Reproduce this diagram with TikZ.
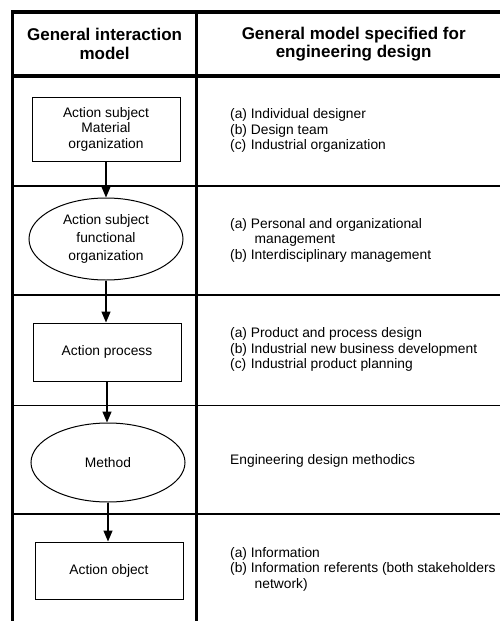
\documentclass[tikz,border=0pt]{standalone}
\usepackage{fontspec}
\setmainfont{Liberation Sans}
\usetikzlibrary{shapes.geometric,arrows.meta}
\begin{document}
\begin{tikzpicture}[x=1pt,y=-1pt,
  framebold/.style={line width=3.2pt, line join=miter},
  thinsep/.style={line width=1.4pt},
  boxnode/.style={draw, line width=1pt, minimum width=148pt, inner sep=0pt, align=center, font=\fontsize{13.8}{15.5}\selectfont},
  ellnode/.style={draw, ellipse, line width=1pt, minimum width=154pt, inner sep=0pt, align=center, font=\fontsize{13.8}{17.7}\selectfont},
  hdr/.style={align=center, inner sep=0pt, font=\bfseries\fontsize{17}{18.3}\selectfont},
  desc/.style={anchor=west, inner sep=0pt, font=\fontsize{13.8}{15.5}\selectfont},
  arr/.style={line width=1.3pt, -{Triangle[length=11pt,width=9pt]}}
]
\useasboundingbox (0,0) rectangle (500,621);
% frame
\draw[framebold] (12.5,621) -- (12.5,12) -- (500,12);
\draw[framebold] (12.5,76) -- (500,76);
\draw[framebold] (196.5,12) -- (196.5,621);
\draw[thinsep] (12.5,186) -- (500,186);
\draw[thinsep] (12.5,295) -- (500,295);
\draw[thinsep] (12.5,405.5) -- (500,405.5);
\draw[thinsep] (12.5,514) -- (500,514);
% headers
\node[hdr] (h1) at (104.6,44) {General interaction\\model};
\node[hdr] (h2) at (353.7,44) {General model specified for\\engineering design};
% left column
\node[boxnode, minimum height=64pt] (b1) at (106,129) {Action subject\\Material\\organization};
\node[ellnode, minimum height=82pt] (e1) at (106,239) {Action subject\\functional\\organization};
\node[boxnode, minimum height=58pt] (b2) at (107,352) {Action process};
\node[ellnode, minimum height=79pt] (e2) at (108,462.5) {Method};
\node[boxnode, minimum height=57pt] (b3) at (109,570.5) {Action object};
\draw[arr] (b1.south) -- (e1.north);
\draw[arr] (e1.south) -- (e1.south |- b2.north);
\draw[arr] (b2.south) -- (b2.south |- e2.north);
\draw[arr] (e2.south) -- (e2.south |- b3.north);
% right column
\node[desc] (d1) at (230,131) {\begin{tabular}{@{}l@{\ }l@{}}(a)&Individual designer\\(b)&Design team\\(c)&Industrial organization\end{tabular}};
\node[desc] (d2) at (230,240.5) {\begin{tabular}{@{}l@{\ }l@{}}(a)&Personal and organizational\\&\ management\\(b)&Interdisciplinary management\end{tabular}};
\node[desc] (d3) at (230,350) {\begin{tabular}{@{}l@{\ }l@{}}(a)&Product and process design\\(b)&Industrial new business development\\(c)&Industrial product planning\end{tabular}};
\node[desc] (d4) at (230,461) {Engineering design methodics};
\node[desc] (d5) at (230,569.5) {\begin{tabular}{@{}l@{\ }l@{}}(a)&Information\\(b)&Information referents (both stakeholders\\&\ network)\end{tabular}};
\end{tikzpicture}
\end{document}
